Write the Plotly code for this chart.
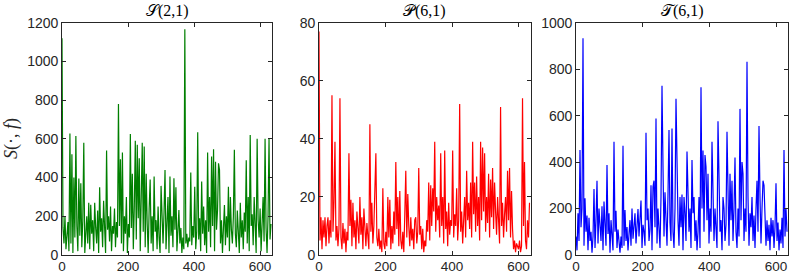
import plotly.graph_objects as go

# sample index (every 3rd frequency bin)
step = 3

S21 = [1120, 140, 60, 200, 30, 110, 170, 20, 628, 60,
       520, 10, 400, 90, 615, 150, 20, 395, 100, 370,
       40, 180, 580, 10, 120, 200, 60, 270, 30, 260,
       110, 180, 20, 270, 140, 60, 230, 10, 350, 120,
       190, 40, 280, 100, 10, 540, 130, 200, 70, 250,
       20, 150, 110, 240, 40, 170, 90, 780, 150, 495,
       60, 530, 20, 200, 110, 300, 10, 160, 90, 625,
       140, 420, 30, 250, 590, 80, 570, 190, 500, 20,
       310, 580, 120, 560, 40, 420, 160, 10, 240, 390,
       60, 200, 20, 405, 120, 180, 30, 250, 90, 10,
       357, 140, 60, 220, 439, 30, 170, 300, 10, 405,
       100, 200, 40, 396, 130, 350, 20, 110, 232, 60,
       140, 10, 90, 30, 1166, 60, 110, 40, 90, 70,
       426, 50, 150, 90, 353, 30, 120, 634, 80, 190,
       20, 379, 110, 250, 50, 180, 10, 530, 120, 300,
       40, 509, 150, 546, 20, 482, 130, 230, 474, 440,
       60, 180, 10, 140, 258, 50, 200, 90, 353, 20,
       300, 130, 60, 200, 543, 110, 40, 230, 150, 10,
       270, 90, 180, 30, 220, 120, 490, 60, 300, 20,
       620, 150, 210, 50, 300, 130, 10, 600, 180, 90,
       240, 20, 160, 300, 70, 600, 140, 10, 200, 600,
       80, 160]

P61 = [77, 5, 13, 2, 12, 6, 13, 3, 10, 13,
       4, 12, 6, 55, 8, 18, 39, 5, 10, 3,
       9, 54, 6, 2, 11, 4, 9, 1, 8, 5,
       35, 10, 19, 3, 18, 6, 12, 2, 15, 8,
       4, 20, 7, 13, 2, 16, 9, 3, 11, 5,
       2, 45, 8, 18, 4, 10, 21, 35, 6, 3,
       9, 2, 5, 1, 23, 4, 2, 8, 3, 20,
       6, 19, 2, 10, 4, 15, 7, 32, 9, 20,
       3, 22, 5, 2, 8, 1, 14, 29, 6, 21,
       10, 3, 13, 5, 9, 2, 12, 13, 4, 8,
       30, 7, 10, 2, 9, 1, 5, 3, 12, 8,
       25, 5, 24, 10, 23, 15, 39, 8, 20, 12,
       17, 6, 35, 10, 20, 4, 36, 9, 15, 3,
       18, 7, 12, 10, 36, 6, 14, 10, 23, 5,
       12, 52, 8, 15, 4, 11, 20, 6, 29, 12,
       18, 9, 25, 6, 39, 14, 25, 8, 27, 10,
       20, 5, 39, 12, 37, 15, 35, 8, 20, 11,
       28, 6, 26, 13, 30, 9, 25, 15, 7, 20,
       12, 4, 51, 10, 18, 6, 14, 20, 8, 29,
       12, 30, 6, 22, 9, 2, 5, 1, 4, 3,
       2, 5, 1, 3, 54, 10, 32, 5, 2, 12,
       6, 18]

T61 = [80, 20, 180, 60, 452, 120, 200, 933, 40, 244,
       100, 170, 20, 160, 60, 100, 10, 80, 284, 30,
       150, 320, 50, 200, 130, 60, 210, 20, 230, 140,
       40, 387, 90, 180, 10, 150, 60, 20, 488, 100,
       190, 30, 110, 50, 10, 80, 30, 470, 40, 194,
       60, 120, 20, 90, 150, 40, 200, 70, 110, 180,
       50, 150, 198, 80, 190, 235, 30, 130, 100, 40,
       526, 150, 200, 60, 110, 300, 20, 294, 320, 120,
       588, 50, 200, 130, 30, 250, 729, 380, 80, 270,
       150, 40, 260, 538, 140, 60, 545, 100, 30, 200,
       673, 270, 150, 40, 250, 120, 260, 20, 250, 180,
       60, 445, 250, 100, 200, 30, 409, 180, 250, 60,
       150, 20, 100, 250, 30, 722, 200, 450, 100, 430,
       380, 150, 350, 50, 200, 100, 488, 250, 60, 200,
       120, 30, 576, 290, 100, 150, 20, 250, 200, 60,
       130, 530, 230, 40, 350, 150, 320, 60, 200, 420,
       100, 30, 200, 80, 629, 150, 400, 350, 60, 200,
       100, 832, 250, 40, 180, 120, 250, 60, 170, 30,
       200, 320, 100, 555, 250, 50, 200, 320, 300, 120,
       40, 150, 60, 130, 20, 160, 80, 150, 30, 120,
       309, 60, 140, 20, 110, 50, 160, 30, 452, 80,
       200, 100]

titles = ["\U0001D4AE(2,1)", "\U0001D4AB(6,1)", "\U0001D4AF(6,1)"]
series = [S21, P61, T61]
colors = ["#007F00", "#FF0000", "#0000FF"]
y_ranges = [[0, 1200], [0, 80], [0, 1000]]
y_dticks = [200, 20, 200]
x_tickvals = [0, 200, 400, 600]
x_range = [0, 636]

W, H = 789, 277
x_domains = [[62 / W, 272 / W], [319 / W, 530.5 / W], [576 / W, 788 / W]]
y_domain = [(H - 255) / H, (H - 22.7) / H]

fig = go.Figure()
axis_color = "#262626"
tick_font = dict(family="Liberation Sans, Arial, sans-serif", size=14, color=axis_color)
xtick_font = dict(family="Liberation Sans, Arial, sans-serif", size=13.5, color=axis_color)

layout = dict(
    width=W, height=H,
    margin=dict(l=0, r=0, t=0, b=0),
    paper_bgcolor="white", plot_bgcolor="white",
    showlegend=False,
)

for k, (vals, col) in enumerate(zip(series, colors)):
    xs = [i * step for i in range(len(vals))]
    suffix = "" if k == 0 else str(k + 1)
    fig.add_trace(go.Scatter(
        x=xs, y=vals, mode="lines",
        line=dict(color=col, width=1.2),
        xaxis="x" + suffix, yaxis="y" + suffix,
        hoverinfo="skip",
    ))
    layout["xaxis" + suffix] = dict(
        domain=x_domains[k], range=x_range, anchor="y" + suffix,
        tickvals=x_tickvals, ticks="inside", ticklen=4, tickwidth=0.8,
        tickcolor=axis_color, showline=True, linecolor=axis_color, linewidth=0.8,
        mirror="ticks", showgrid=False, zeroline=False, tickfont=xtick_font,
        automargin=False, ticklabelstandoff=-1, ticklabeloverflow="allow",
    )
    layout["yaxis" + suffix] = dict(
        domain=y_domain, range=y_ranges[k], anchor="x" + suffix,
        dtick=y_dticks[k], tick0=0, ticks="inside", ticklen=4, tickwidth=0.8,
        tickcolor=axis_color, showline=True, linecolor=axis_color, linewidth=0.8,
        mirror="ticks", showgrid=False, zeroline=False, tickfont=tick_font,
        automargin=False, ticklabeloverflow="allow",
    )

annotations = []
for k, t in enumerate(titles):
    cx = (x_domains[k][0] + x_domains[k][1]) / 2
    annotations.append(dict(
        text=t, x=cx, y=(H - 11) / H, xref="paper", yref="paper",
        xanchor="center", yanchor="middle", showarrow=False,
        font=dict(family="Liberation Serif, DejaVu Serif, serif", size=16, color="black"),
    ))
annotations.append(dict(
    text="<i>S</i>(·, <i>f</i>)", x=11 / W, y=(H - 139) / H, xref="paper", yref="paper",
    xanchor="center", yanchor="middle", showarrow=False, textangle=-90,
    font=dict(family="Liberation Serif, DejaVu Serif, serif", size=18, color=axis_color),
))
layout["annotations"] = annotations

fig.update_layout(**layout)
fig.write_html(
    "out.html",
    config={"displayModeBar": False},
    post_script="document.body.style.margin='0';document.body.style.overflow='hidden';",
)
